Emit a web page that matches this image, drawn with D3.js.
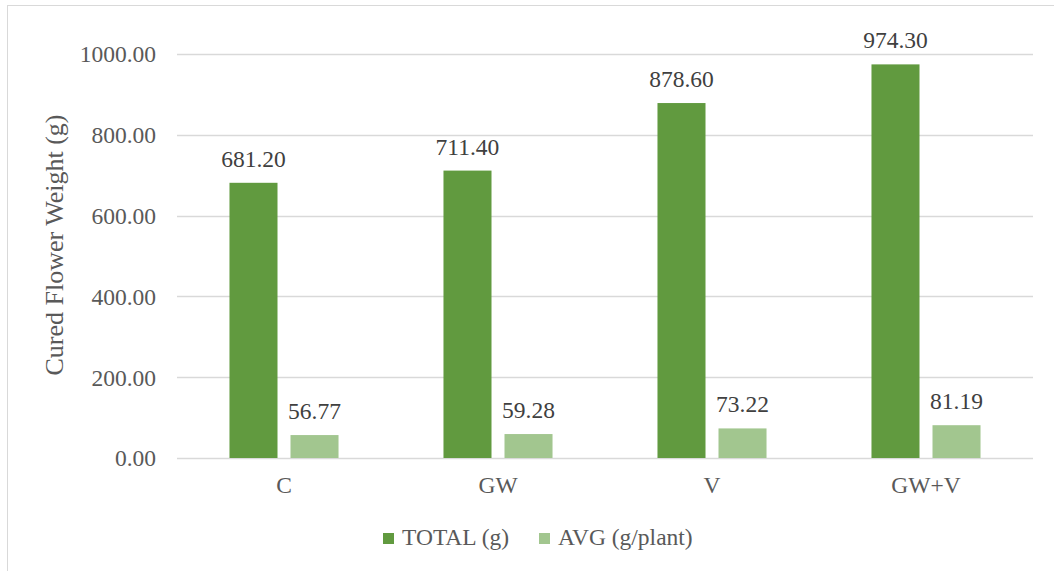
<!DOCTYPE html>
<html>
<head>
<meta charset="utf-8">
<script src="https://cdn.jsdelivr.net/npm/d3@7"></script>
<style>
  body { margin: 0; background: #fff; }
</style>
</head>
<body>
<svg id="chart" width="1054" height="571" font-family="'Times New Roman', 'Liberation Serif', 'DejaVu Serif', serif"></svg>
<script>
var categories = ['C', 'GW', 'V', 'GW+V'];
var series = ['TOTAL (g)', 'AVG (g/plant)'];
var totalValues = [681.20, 711.40, 878.60, 974.30];
var avgValues = [56.77, 59.28, 73.22, 81.19];
var yTicks = [0, 200, 400, 600, 800, 1000];

var colors = ['#619A3F', '#A2C68F'];
var fontFamily = "'Times New Roman', 'Liberation Serif', 'DejaVu Serif', serif";

var svg = d3.select('#chart');

// chart border
svg.append('rect')
  .attr('x', 7.5).attr('y', 5.5)
  .attr('width', 1100).attr('height', 700)
  .attr('fill', 'none')
  .attr('stroke', '#d9d9d9');

var plotLeft = 177, plotRight = 1033, plotTop = 54, plotBottom = 458;

var x = d3.scaleBand().domain(categories).range([plotLeft, plotRight]);
var xInner = d3.scaleBand().domain(series).range([0, x.bandwidth()]).paddingInner(0.213).paddingOuter(0.86);
var y = d3.scaleLinear().domain([0, 1000]).range([plotBottom, plotTop]);

// gridlines
svg.append('g')
  .selectAll('line')
  .data(yTicks)
  .enter()
  .append('line')
  .attr('x1', plotLeft).attr('x2', plotRight)
  .attr('y1', d => Math.round(y(d)) + 0.5)
  .attr('y2', d => Math.round(y(d)) + 0.5)
  .attr('stroke', '#d9d9d9')
  .attr('stroke-width', 1.3);

// y tick labels
svg.append('g')
  .selectAll('text')
  .data(yTicks)
  .enter()
  .append('text')
  .attr('x', 156)
  .attr('y', d => y(d))
  .attr('dy', '0.36em')
  .attr('text-anchor', 'end')
  .attr('fill', '#595959')
  .style('font-family', fontFamily)
  .style('font-size', '23.5px')
  .text(d => d3.format('.2f')(d));

// y axis title
svg.append('text')
  .attr('transform', 'translate(63,245) rotate(-90)')
  .attr('text-anchor', 'middle')
  .attr('fill', '#595959')
  .style('font-family', fontFamily)
  .style('font-size', '26px')
  .text('Cured Flower Weight (g)');

var rows = categories.map((c, i) => ({ cat: c, values: [totalValues[i], avgValues[i]] }));

var groups = svg.append('g')
  .selectAll('g')
  .data(rows)
  .enter()
  .append('g')
  .attr('transform', d => 'translate(' + x(d.cat) + ',0)');

groups.selectAll('rect')
  .data(d => d.values.map((v, j) => ({ s: series[j], v: v, j: j })))
  .enter()
  .append('rect')
  .attr('x', d => xInner(d.s))
  .attr('width', xInner.bandwidth())
  .attr('y', d => y(d.v))
  .attr('height', d => y(0) - y(d.v))
  .attr('fill', d => colors[d.j]);

// data labels
groups.selectAll('text')
  .data(d => d.values.map((v, j) => ({ s: series[j], v: v })))
  .enter()
  .append('text')
  .attr('x', d => xInner(d.s) + xInner.bandwidth() / 2)
  .attr('y', d => y(d.v) - 16)
  .attr('text-anchor', 'middle')
  .attr('fill', '#404040')
  .style('font-family', fontFamily)
  .style('font-size', '23.5px')
  .text(d => d3.format('.2f')(d.v));

// category labels
svg.append('g')
  .selectAll('text')
  .data(categories)
  .enter()
  .append('text')
  .attr('x', d => x(d) + x.bandwidth() / 2)
  .attr('y', 493)
  .attr('text-anchor', 'middle')
  .attr('fill', '#595959')
  .style('font-family', fontFamily)
  .style('font-size', '23.5px')
  .text(d => d);

// legend
var legendX = [383, 539];
var legend = svg.append('g')
  .selectAll('g')
  .data(series)
  .enter()
  .append('g')
  .attr('transform', (d, i) => 'translate(' + legendX[i] + ',0)');

legend.append('rect')
  .attr('x', 0).attr('y', 533)
  .attr('width', 11).attr('height', 11)
  .attr('fill', (d, i) => colors[i]);

legend.append('text')
  .attr('x', 19).attr('y', 545)
  .attr('fill', '#595959')
  .style('font-family', fontFamily)
  .style('font-size', '23.5px')
  .text(d => d);
</script>
</body>
</html>
